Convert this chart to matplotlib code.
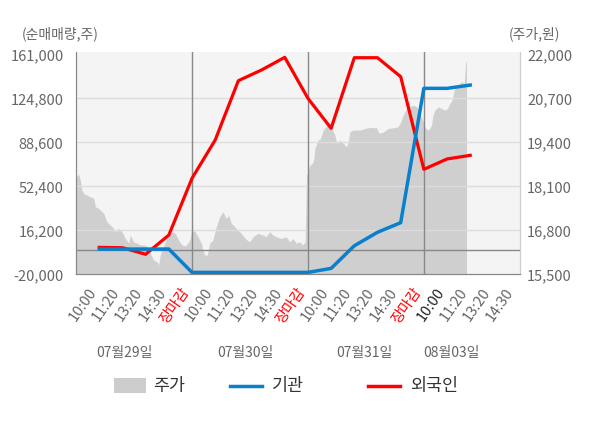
import matplotlib
matplotlib.use("Agg")
import matplotlib.pyplot as plt
from matplotlib.patches import Rectangle
from matplotlib.lines import Line2D

plt.rcParams['font.family'] = ['Noto Sans CJK KR', 'DejaVu Sans']

# x slots: 10:00 11:20 13:20 14:30 장마감 per day
tick_labels = ['10:00', '11:20', '13:20', '14:30', '장마감',
               '10:00', '11:20', '13:20', '14:30', '장마감',
               '10:00', '11:20', '13:20', '14:30', '장마감',
               '10:00', '11:20', '13:20', '14:30']
dates = ['07월29일', '07월30일', '07월31일', '08월03일']
date_pos = [2.1, 7.3, 12.45, 16.2]

# net buying (shares) at each slot 1..17
flow_slots = list(range(1, 18))
inst = [800, 800, 800, 800, -18400, -18400, -18400, -18400, -18400, -18400,
        -15100, 3500, 14600, 22500, 133000, 133000, 135700]
foreign = [2200, 1900, -3500, 12300, 59000, 90500, 139300, 148100, 158500,
           124800, 100100, 158200, 158200, 142600, 66400, 74900, 77900]

# intraday price (won), position in slot units
price_pos = [0.0, 0.11, 0.18, 0.25, 0.33, 0.47, 0.61, 0.76, 0.83, 0.97,
             1.19, 1.33, 1.47, 1.62, 1.69, 1.84, 1.98, 2.12, 2.27, 2.34,
             2.48, 2.63, 2.77, 2.92, 3.06, 3.20, 3.35, 3.49, 3.56, 3.63,
             3.70, 3.92, 4.14, 4.28, 4.42, 4.57, 4.71, 4.86, 4.92, 4.97,
             5.11, 5.26, 5.40, 5.47, 5.55, 5.66, 5.76, 5.90, 6.05, 6.19,
             6.33, 6.48, 6.58, 6.69, 6.91, 7.12, 7.34, 7.49, 7.63, 7.84,
             8.06, 8.20, 8.35, 8.49, 8.63, 8.85, 9.06, 9.21, 9.35, 9.50,
             9.64, 9.78, 9.88, 9.94, 10.09, 10.20, 10.26, 10.30, 10.38, 10.44,
             10.52, 10.59, 10.66, 10.78, 10.88, 11.02, 11.16, 11.24, 11.38, 11.52,
             11.67, 11.74, 11.81, 11.95, 12.24, 12.46, 12.67, 12.96, 13.06, 13.25,
             13.46, 13.68, 13.89, 14.01, 14.11, 14.26, 14.33, 14.40, 14.54, 14.69,
             14.83, 14.97, 15.04, 15.16, 15.26, 15.33, 15.40, 15.48, 15.62, 15.76,
             15.91, 16.02, 16.12, 16.22, 16.31, 16.41, 16.55, 16.63, 16.74, 16.77,
             16.81, 16.84]
price = [18380, 18460, 18290, 17990, 17890, 17840, 17790, 17750, 17500, 17450,
         17300, 17050, 16960, 16860, 16760, 16860, 16760, 16560, 16420, 16660,
         16460, 16420, 16370, 16370, 16320, 16120, 15920, 15870, 15780, 16070,
         16220, 16560, 16760, 16710, 16510, 16370, 16340, 16460, 16560, 16760,
         16790, 16610, 16420, 16220, 16070, 16070, 16420, 16510, 16910, 17200,
         17350, 17150, 17250, 17010, 16860, 16710, 16530, 16460, 16610, 16710,
         16660, 16610, 16760, 16660, 16610, 16560, 16610, 16460, 16560, 16420,
         16460, 16370, 16460, 18430, 18730, 18780, 18930, 19220, 19370, 19470,
         19490, 19620, 19760, 19860, 19910, 19810, 19620, 19370, 19470, 19370,
         19270, 19420, 19710, 19760, 19760, 19810, 19840, 19830, 19670, 19700,
         19810, 19830, 19860, 20010, 20210, 20400, 20600, 20450, 20500, 20450,
         20260, 20020, 19860, 19760, 19810, 19910, 20210, 20350, 20450, 20400,
         20350, 20400, 20550, 20650, 20950, 21040, 21140, 21190, 21140, 21440,
         21780, 21780]

left_ticks = [-20000, 16200, 52400, 88600, 124800, 161000]
right_ticks = [15500, 16800, 18100, 19400, 20700, 22000]

fig = plt.figure(figsize=(6, 4.28), dpi=100)
ax = fig.add_axes([0.1268, 0.359, 0.74, 0.5202])
ax2 = ax.twinx()

# price area on right axis, drawn below flows
ax2.set_zorder(0)
ax.set_zorder(1)
ax.patch.set_visible(False)
ax2.patch.set_visible(True)
ax2.patch.set_facecolor('#f4f4f4')
ax2.fill_between(price_pos, 15500, price, color='#cfcfcf', lw=0)
ax2.set_ylim(15500, 22077)
ax2.set_yticks(right_ticks)
ax2.set_yticklabels([f'{v:,}' for v in right_ticks])

ax.set_ylim(-20000, 163140)
ax.set_xlim(0, 19.15)
ax.set_yticks(left_ticks)
ax.set_yticklabels([f'{v:,}' for v in left_ticks])
for v in left_ticks[1:-1]:
    ax.axhline(v, color='#dddddd', lw=1, zorder=0)
ax.axhline(0, color='#888888', lw=1, zorder=1)
for d in [5, 10, 15]:
    ax.axvline(d, color='#888888', lw=1, zorder=1)

ax.plot(flow_slots, foreign, color='#ff0000', lw=2.3, zorder=3)
ax.plot(flow_slots, inst, color='#0a7fcc', lw=2.5, zorder=4)

ax.set_xticks(range(1, 20))
ax.set_xticklabels(tick_labels, rotation=55, ha='right', va='top', fontsize=10.5)
for i, lab in enumerate(ax.get_xticklabels()):
    if tick_labels[i] == '장마감':
        lab.set_color('#ff0000')
    elif i == 15:
        lab.set_color('#222222')
    else:
        lab.set_color('#666666')

ax.tick_params(axis='x', length=0, pad=8)
ax.tick_params(axis='y', length=0, labelsize=10.5, labelcolor='#666666', pad=9)
ax2.tick_params(axis='y', length=0, labelsize=10.5, labelcolor='#666666', pad=5)

for a in (ax, ax2):
    a.spines['top'].set_visible(False)
    a.spines['left'].set_color('#888888')
    a.spines['bottom'].set_color('#888888')
    a.spines['right'].set_color('#cccccc')

for p, d in zip(date_pos, dates):
    ax.text(p, -0.355, d, transform=ax.get_xaxis_transform(), ha='center',
            va='center', fontsize=10, color='#666666')

fig.text(0.037, 0.922, '(순매매량,주)', fontsize=10, color='#666666', va='center')
fig.text(0.848, 0.922, '(주가,원)', fontsize=10, color='#666666', va='center')

# legend, laid out like the original
W, H = 600.0, 428.0
ly = 1 - 386 / H
fig.add_artist(Rectangle((114 / W, 1 - 393 / H), 32 / W, 15 / H,
                         transform=fig.transFigure, color='#cccccc', lw=0))
fig.add_artist(Line2D([230 / W, 262 / W], [ly, ly], transform=fig.transFigure,
                      color='#0a7fcc', lw=2.5))
fig.add_artist(Line2D([368 / W, 400 / W], [ly, ly], transform=fig.transFigure,
                      color='#ff0000', lw=2.5))
for x0, t in [(153, '주가'), (272, '기관'), (410, '외국인')]:
    fig.text(x0 / W, ly, t, fontsize=12.5, color='#333333', va='center')

fig.savefig('out.png', dpi=100)
